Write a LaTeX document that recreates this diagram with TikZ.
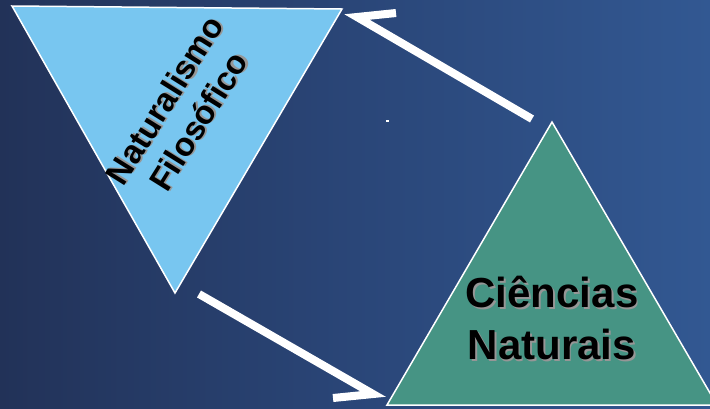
\documentclass[tikz,border=0pt]{standalone}
\usepackage{fontspec}
\setmainfont{Liberation Sans}
\definecolor{bgleft}{RGB}{34,50,88}
\definecolor{bgmid}{RGB}{42,70,120}
\definecolor{bgright}{RGB}{50,88,146}
\definecolor{lightblue}{RGB}{120,198,240}
\definecolor{teal}{RGB}{70,148,132}
\definecolor{shadowgray}{RGB}{150,150,150}
\newcommand{\shadowed}[1]{\leavevmode\rlap{\hspace{1.5pt}\raisebox{-1.5pt}{\textcolor{shadowgray}{#1}}}#1}
\tikzset{
  tri/.style={draw=white, line width=1.5pt, line join=miter},
  harpoon/.style={draw=white, line width=8pt, line join=miter, line cap=butt},
  lblA/.style={font=\bfseries\fontsize{33}{40}\selectfont, align=center, inner sep=0pt},
  lblB/.style={font=\bfseries\fontsize{42}{52}\selectfont, align=center, inner sep=0pt},
}
\begin{document}
\begin{tikzpicture}[x=1pt,y=-1pt]
\useasboundingbox (0,0) rectangle (710,408);
\clip (0,0) rectangle (710,408);
\shade[left color=bgleft, right color=bgright, middle color=bgmid] (0,0) rectangle (710,408);
% triangles
\coordinate (ntl) at (12,6);
\coordinate (ntr) at (342,9);
\coordinate (nb) at (175,293);
\filldraw[tri, fill=lightblue] (ntl) -- (ntr) -- (nb) -- cycle;
\coordinate (ca) at (552,122);
\coordinate (cl) at (387,405);
\coordinate (cr) at (717,405);
\filldraw[tri, fill=teal] (ca) -- (cl) -- (cr) -- cycle;
% labels
\node[lblA, rotate=58] (nf) at (182,111) {\shadowed{Naturalismo}\\\shadowed{Filosófico}};
\node[lblB] (cn) at (552,319) {\shadowed{Ciências}\\\shadowed{Naturais}};
% connectors
\coordinate (a1s) at (199,294);
\coordinate (a1t) at (373,394);
\coordinate (a1b) at (333,398);
\draw[harpoon] (a1s) -- (a1t) -- (a1b);
\coordinate (a2s) at (532,119);
\coordinate (a2t) at (357,17);
\coordinate (a2b) at (396,13);
\draw[harpoon] (a2s) -- (a2t) -- (a2b);
% small white mark
\fill[white] (385.5,119.5) rectangle (388.5,121.5);
\end{tikzpicture}
\end{document}
